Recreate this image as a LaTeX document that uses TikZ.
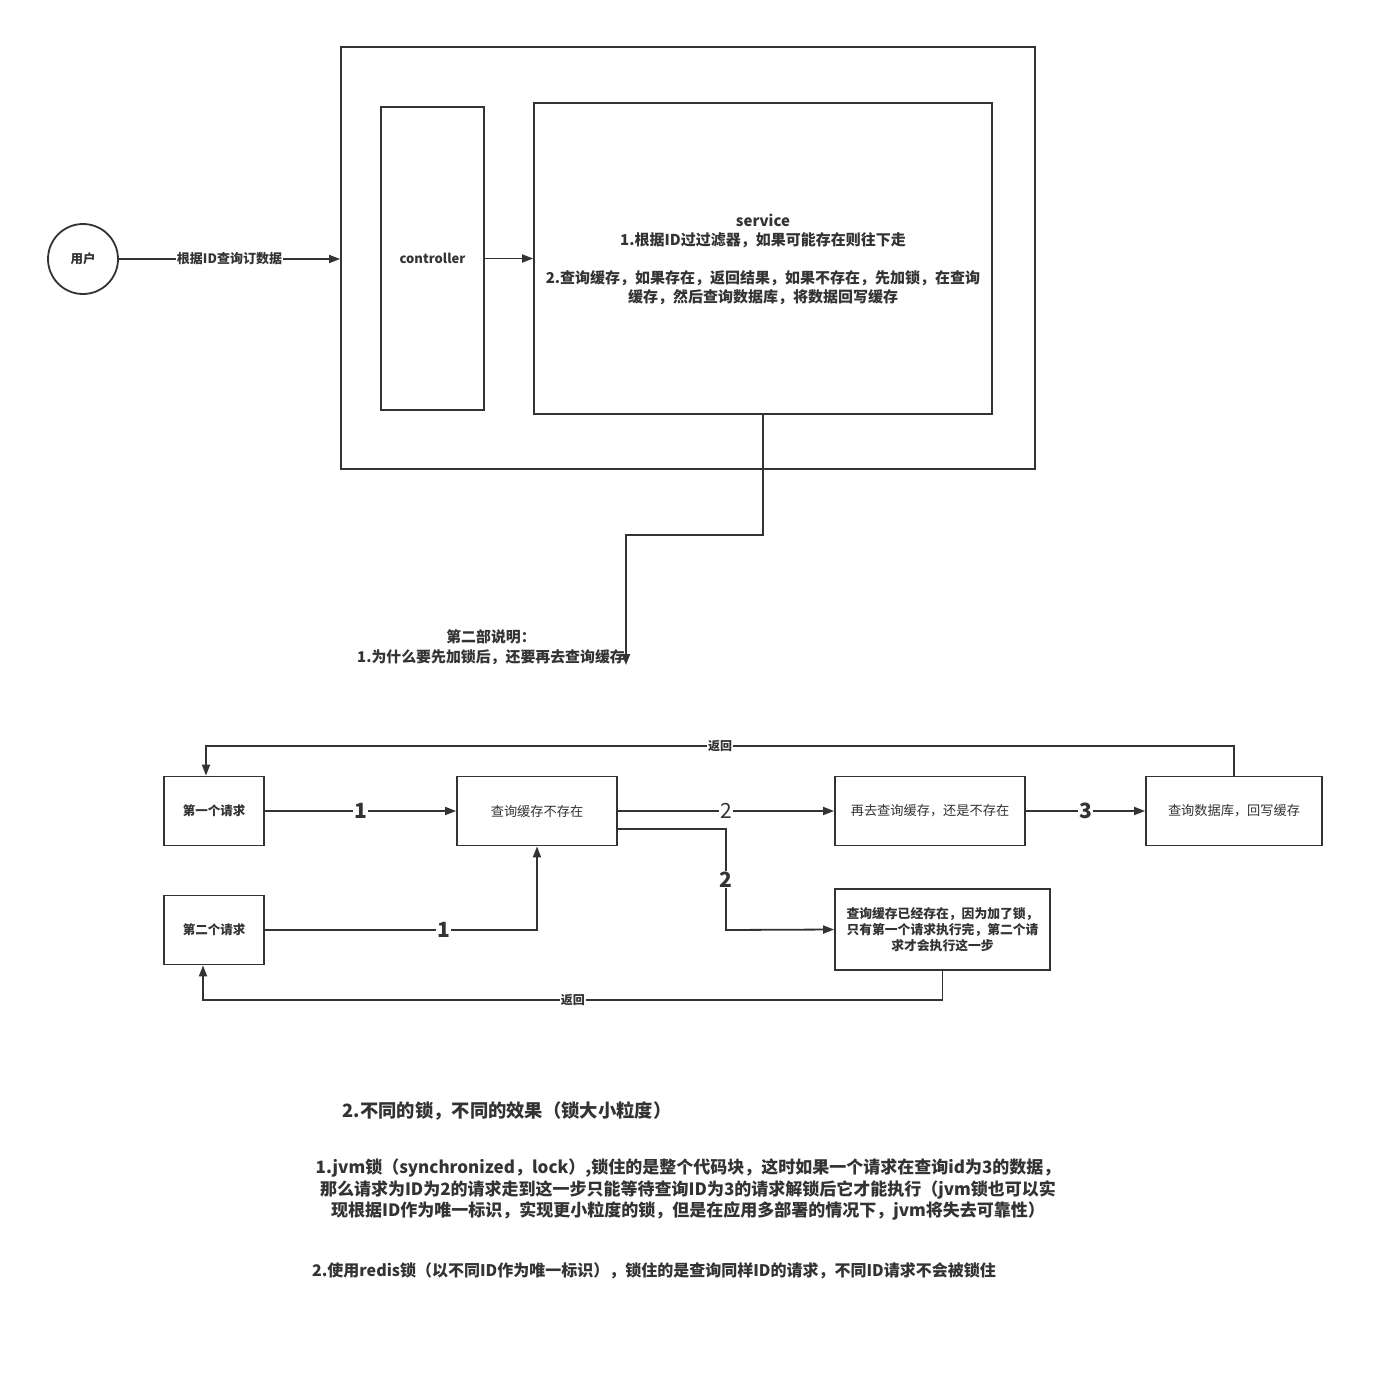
\documentclass[tikz,border=0pt]{standalone}
\usepackage{fontspec}
\setmainfont{Noto Sans CJK SC}
\usetikzlibrary{arrows.meta}
\definecolor{ink}{HTML}{333333}

\begin{document}
\begin{tikzpicture}[x=1pt,y=-1pt,
  every node/.style={text=ink},
  box/.style={draw=ink, line width=1.8pt, inner sep=2pt, align=center},
  conn/.style={draw=ink, line width=1.8pt, -{Triangle[length=11pt,width=8pt]}},
  lbl/.style={fill=white, inner sep=1pt, font=\fontsize{12}{14}\selectfont\bfseries},
  num/.style={fill=white, inner sep=1pt, font=\fontsize{21}{24}\selectfont\bfseries},
  numthin/.style={fill=white, inner sep=1pt, font=\fontsize{21}{24}\selectfont},
  small/.style={font=\fontsize{13.2}{15}\selectfont},
  smallb/.style={font=\fontsize{12.5}{15}\selectfont\bfseries},
]
\useasboundingbox[fill=white] (0,0) rectangle (1384,1376);

% ---- upper part: request path ----
\node[box, circle, minimum size=70pt, smallb] (user) at (83,259) {用户};
\node[box, minimum width=694pt, minimum height=422pt] (app) at (688,258) {};
\node[box, minimum width=103pt, minimum height=303pt, font=\fontsize{13}{15}\selectfont\bfseries] (ctrl) at (432.5,258.5) {controller};
\node[box, minimum width=458pt, minimum height=311pt] (svc) at (763,258.5) {};
\node[align=center, font=\fontsize{15}{19.5}\selectfont\bfseries] (svctxt) at (763,231)
  {service\\1.根据ID过过滤器，如果可能存在则往下走};
\node[align=center, font=\fontsize{15}{19}\selectfont\bfseries] (svctxt2) at (763,288)
  {2.查询缓存，如果存在，返回结果，如果不存在，先加锁，在查询\\缓存，然后查询数据库，将数据回写缓存};

\draw[conn] (user) -- node[lbl, font=\fontsize{13}{15}\selectfont\bfseries] {根据ID查询订数据} (user -| app.west);
\draw[conn] (ctrl) -- (svc);

\node[align=center, font=\fontsize{14.9}{20}\selectfont\bfseries] (note) at (491,647)
  {第二部说明：\\1.为什么要先加锁后，还要再去查询缓存};
\coordinate (tip) at (626,665);
\draw[conn] (svc.south) -- ++(0,120) -| (tip);

% ---- lower part: two concurrent requests ----
\node[box, minimum width=100pt, minimum height=69pt, smallb] (r1) at (214,811) {第一个请求};
\node[box, minimum width=160pt, minimum height=69pt, small] (q1) at (537,811) {查询缓存不存在};
\node[box, minimum width=190pt, minimum height=69pt, small] (r2) at (930,811) {再去查询缓存，还是不存在};
\node[box, minimum width=176pt, minimum height=69pt, small] (db) at (1234,811) {查询数据库，回写缓存};
\node[box, minimum width=100pt, minimum height=69pt, smallb] (r3) at (214,930) {第二个请求};
\node[box, minimum width=215pt, minimum height=81pt, font=\fontsize{12.8}{16}\selectfont\bfseries] (exist) at (942.5,929.5)
  {查询缓存已经存在，因为加了锁，\\只有第一个请求执行完，第二个请\\求才会执行这一步};

\draw[conn] (r1) -- node[num] {1} (q1);
\draw[conn] (q1) -- node[numthin] {2} (r2);
\draw[conn] (r2) -- node[num] {3} (db);
\coordinate (topL) at (206,746);
\draw[conn] (db.north) |- node[lbl, pos=0.75] {返回} (topL) -- ([xshift=-8pt]r1.north);

\coordinate (jog) at (726,930);
\draw[conn] ([yshift=-18pt]q1.east) -| node[num, pos=0.75] {2} (jog) -- (exist.west);
\draw[conn] (r3.east) -| node[num, pos=0.328] {1} (q1.south);
\coordinate (botL) at (203,1000);
\draw[conn] (exist.south) |- node[lbl, pos=0.75] {返回} (botL) -- ([xshift=-11pt]r3.south);

% ---- explanation text ----
\node[font=\fontsize{18.3}{21}\selectfont\bfseries] (h2) at (507,1111) {2.不同的锁，不同的效果（锁大小粒度）};
\node[align=center, font=\fontsize{17}{21.5}\selectfont\bfseries] (p1) at (688,1190)
  {1.jvm锁（synchronized，lock）,锁住的是整个代码块，这时如果一个请求在查询id为3的数据，\\
   那么请求为ID为2的请求走到这一步只能等待查询ID为3的请求解锁后它才能执行（jvm锁也可以实\\
   现根据ID作为唯一标识，实现更小粒度的锁，但是在应用多部署的情况下，jvm将失去可靠性）};
\node[font=\fontsize{16}{18}\selectfont\bfseries] (p2) at (654,1271)
  {2.使用redis锁（以不同ID作为唯一标识），锁住的是查询同样ID的请求，不同ID请求不会被锁住};
\end{tikzpicture}
\end{document}
